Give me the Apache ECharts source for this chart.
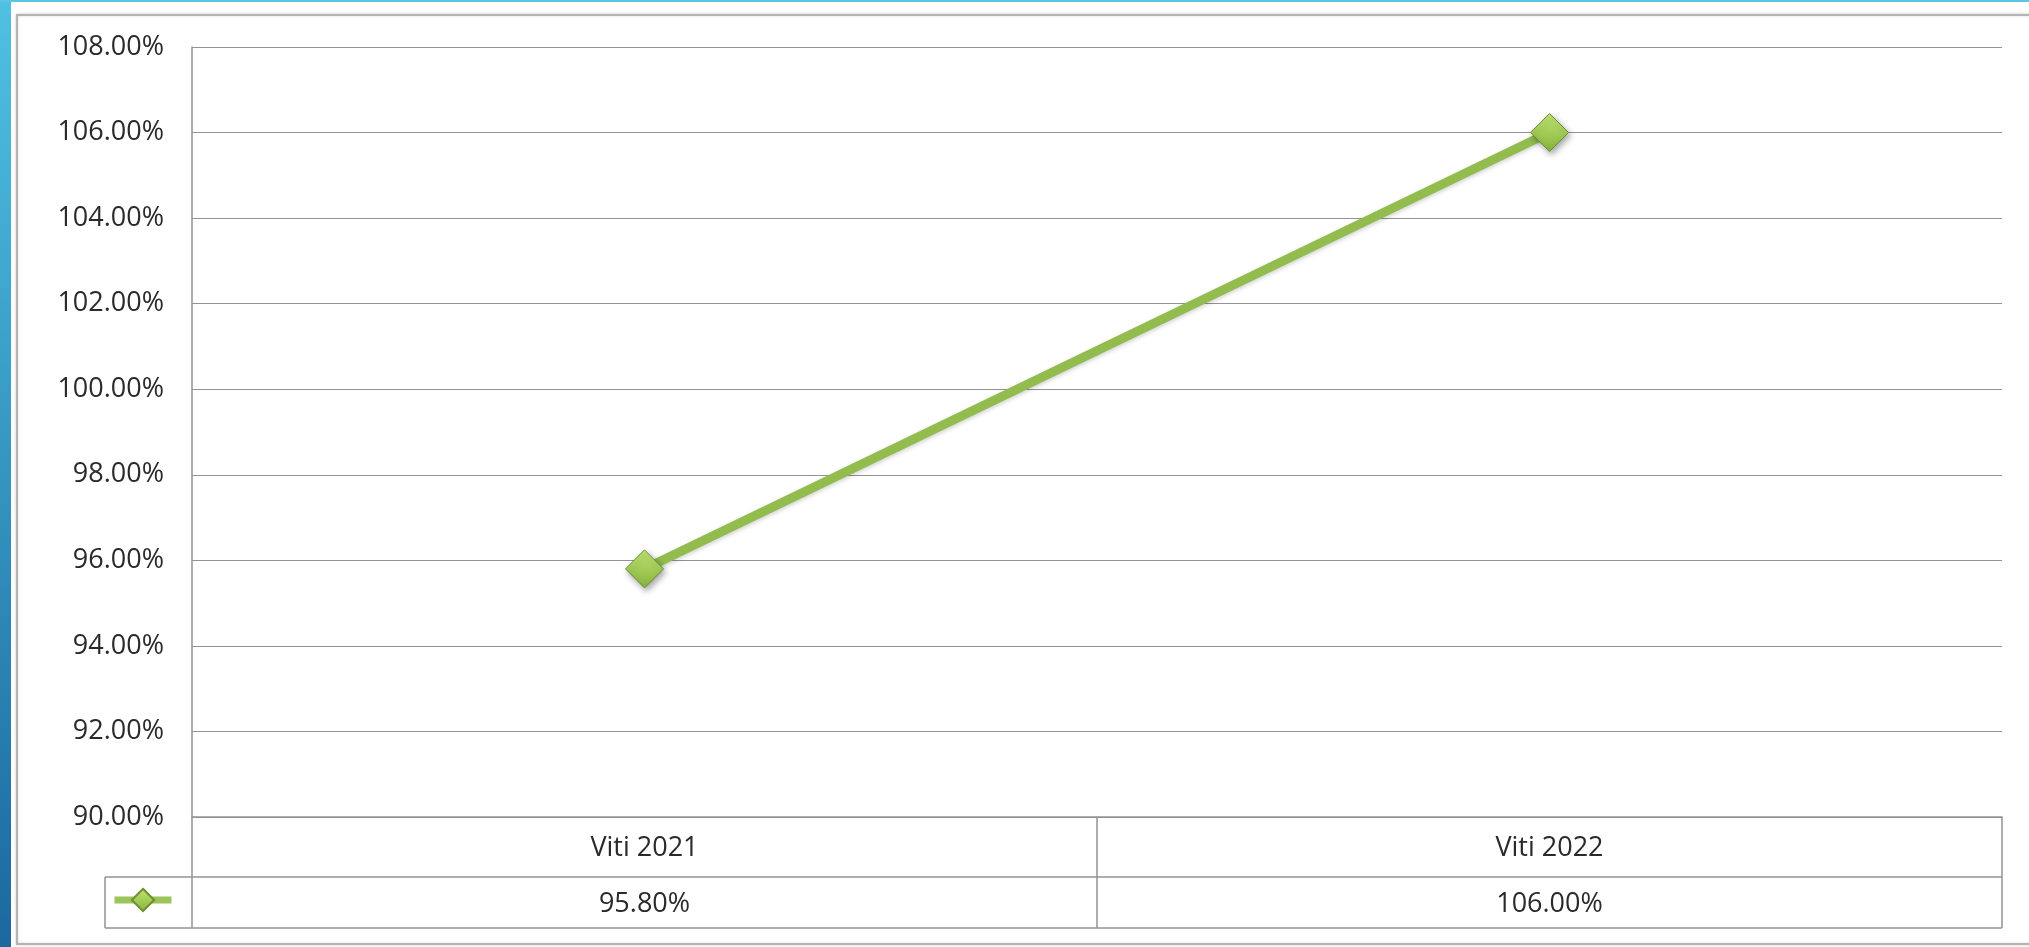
<!DOCTYPE html>
<html>
<head>
<meta charset="utf-8">
<title>Viti 2021 - Viti 2022</title>
<script src="https://cdn.jsdelivr.net/npm/echarts@6/dist/echarts.min.js"></script>
<style>
    html, body { margin: 0; padding: 0; background: #fff; }
    #chart { width: 2029px; height: 947px; }
</style>
</head>
<body>
<div id="chart"></div>
<script>
// data
var categories = ['Viti 2021', 'Viti 2022'];
var values = [95.8, 106.0];
var yMin = 90, yMax = 108, yStep = 2;
var seriesName = 'Përqindja';

function pct(v) { return v.toFixed(2) + '%'; }

var textColor = '#2a2a2a';
var lineGray = '#939393';
var green = '#92bc4e';
var font = '"Open Sans", "Noto Sans", sans-serif';
var fontSize = 27;

// layout of the grid / table
var plotLeft = 192, plotRight = 27, plotTop = 47, axisY = 817;
var rowMid = 877, tableBottom = 928, keyLeft = 105;

var chart = echarts.init(document.getElementById('chart'), null, { renderer: 'canvas' });

var option = {
    animation: false,
    backgroundColor: '#fff',
    textStyle: { fontFamily: font },
    grid: {
        left: plotLeft,
        right: plotRight,
        top: plotTop,
        bottom: 947 - axisY,
        containLabel: false
    },
    legend: {
        data: [seriesName],
        left: 111,
        top: 886,
        padding: 0,
        itemWidth: 57,
        itemHeight: 28,
        formatter: function () { return ''; },
        lineStyle: { width: 7, color: '#9cc45a' }
    },
    xAxis: {
        type: 'category',
        data: categories,
        boundaryGap: true,
        axisLine: { show: true, lineStyle: { color: lineGray, width: 1.5 } },
        axisTick: { show: false },
        splitLine: { show: false },
        axisLabel: {
            margin: 1,
            interval: 0,
            color: textColor,
            fontFamily: font,
            fontSize: fontSize,
            formatter: function (v, i) {
                return '{a|' + v + '}\n{b|' + pct(values[i]) + '}';
            },
            rich: {
                a: { lineHeight: 60, fontSize: fontSize, color: textColor, fontFamily: font },
                b: { lineHeight: 52, fontSize: fontSize, color: textColor, fontFamily: font }
            }
        }
    },
    yAxis: {
        type: 'value',
        min: yMin,
        max: yMax,
        interval: yStep,
        axisLine: { show: true, lineStyle: { color: lineGray, width: 1.5 } },
        axisTick: { show: false },
        splitLine: { show: true, lineStyle: { color: lineGray, width: 1.2 } },
        axisLabel: {
            margin: 28,
            color: textColor,
            fontFamily: font,
            fontSize: fontSize,
            formatter: function (v) { return pct(v); }
        }
    },
    series: [
        {
            name: seriesName,
            type: 'line',
            data: values,
            color: green,
            symbol: 'diamond',
            symbolSize: 38,
            lineStyle: {
                width: 9,
                color: green,
                shadowBlur: 4,
                shadowColor: 'rgba(0,0,0,0.18)',
                shadowOffsetY: 2
            },
            itemStyle: {
                color: new echarts.graphic.LinearGradient(0, 0, 0, 1, [
                    { offset: 0, color: '#bfe474' },
                    { offset: 1, color: '#86b43c' }
                ]),
                borderColor: '#6c8e30',
                borderWidth: 1,
                shadowBlur: 6,
                shadowColor: 'rgba(0,0,0,0.35)',
                shadowOffsetX: 2,
                shadowOffsetY: 3
            },
            z: 3
        }
    ]
};
chart.setOption(option);

// table borders below the plot, built from the category positions
var x0 = chart.convertToPixel({ xAxisIndex: 0 }, categories[0]);
var x1 = chart.convertToPixel({ xAxisIndex: 0 }, categories[1]);
var midX = (x0 + x1) / 2;
var rightX = 2029 - plotRight;
var tableLine = { stroke: lineGray, lineWidth: 1.5 };

chart.setOption({
    graphic: [
        // blue band on the left and top edge of the slide
        {
            type: 'rect', silent: true, z: -10,
            shape: { x: 0, y: 0, width: 11, height: 947 },
            style: {
                fill: new echarts.graphic.LinearGradient(0, 0, 0, 1, [
                    { offset: 0, color: '#4fc1e2' },
                    { offset: 1, color: '#1b689f' }
                ])
            }
        },
        {
            type: 'rect', silent: true, z: -10,
            shape: { x: 0, y: 0, width: 2029, height: 2 },
            style: { fill: '#5cc6e2' }
        },
        // outer chart frame
        {
            type: 'rect', silent: true, z: -5,
            shape: { x: 17, y: 15, width: 2100, height: 929 },
            style: {
                fill: '#fff', stroke: '#b4b4b4', lineWidth: 2,
                shadowBlur: 3, shadowColor: 'rgba(0,0,0,0.15)'
            }
        },
        // table
        { type: 'line', silent: true, shape: { x1: plotLeft, y1: axisY, x2: plotLeft, y2: tableBottom }, style: tableLine },
        { type: 'line', silent: true, shape: { x1: midX, y1: axisY, x2: midX, y2: tableBottom }, style: tableLine },
        { type: 'line', silent: true, shape: { x1: rightX, y1: axisY, x2: rightX, y2: tableBottom }, style: tableLine },
        { type: 'line', silent: true, shape: { x1: keyLeft, y1: rowMid, x2: rightX, y2: rowMid }, style: tableLine },
        { type: 'line', silent: true, shape: { x1: keyLeft, y1: tableBottom, x2: rightX, y2: tableBottom }, style: tableLine },
        { type: 'line', silent: true, shape: { x1: keyLeft, y1: rowMid, x2: keyLeft, y2: tableBottom }, style: tableLine }
    ]
});

window.onresize = function () {
    chart.resize();
};
</script>
</body>
</html>
